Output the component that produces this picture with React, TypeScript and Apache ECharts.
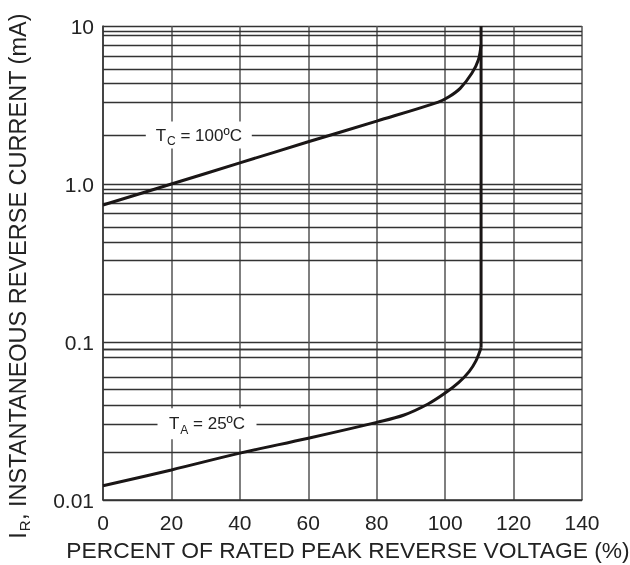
import React, { useEffect, useRef } from "react";
import * as echarts from "echarts";

const xTicks = [0, 20, 40, 60, 80, 100, 120, 140];
const yTickValues = [0.01, 0.1, 1, 10];
const yTickLabels = ["0.01", "0.1", "1.0", "10"];
const gridMantissas = [2.04, 3.3, 4.32, 5.34, 6.45, 7.58, 8.73, 9.3];
const gridDecades = [0.01, 0.1, 1];

const tc100X = [0, 20, 40, 60, 80, 98, 101, 104.4, 107.8, 109.7, 110.5];
const tc100Y = [0.736, 1.0, 1.36, 1.85, 2.5, 3.3, 3.55, 4.03, 5.02, 6.1, 7.6];

const ta25X = [0, 20, 40, 60, 80, 88, 95, 100, 104, 107, 109, 110.5];
const ta25Y = [0.0123, 0.0155, 0.0198, 0.0246, 0.031, 0.0345, 0.0405, 0.0475, 0.0555, 0.065, 0.076, 0.092];

const breakdownX = [110.5, 110.5];
const breakdownY = [0.092, 10];

const labelTcPos = [28, 2.04];
const labelTaPos = [30.4, 0.0304];

const FONT = "Liberation Sans, Arial, Helvetica, sans-serif";

export default function App() {
  const ref = useRef<HTMLDivElement>(null);
  useEffect(() => {
    if (!ref.current) return;
    const chart = echarts.init(ref.current, null, { renderer: "svg" });
    const gridValues: number[] = [];
    gridDecades.forEach((d) => gridMantissas.forEach((m) => gridValues.push(+(d * m).toPrecision(4))));

    const labelRich = {
      a: { fontSize: 17, fontFamily: FONT, color: "#222" },
      s: { fontSize: 12, fontFamily: FONT, color: "#222", padding: [12, 0, 0, 1] },
    };
    const curveStyle = { color: "#1a1616", width: 3 };

    chart.setOption({
      animation: false,
      grid: { left: 103, right: 48, top: 26, bottom: 65, containLabel: false },
      xAxis: {
        type: "value",
        min: xTicks[0],
        max: xTicks[xTicks.length - 1],
        interval: 20,
        axisLine: { show: true, lineStyle: { color: "#333", width: 1.5 } },
        axisTick: { show: false },
        axisLabel: { fontSize: 21, fontFamily: FONT, color: "#222", margin: 12 },
        splitLine: { show: true, lineStyle: { color: "#555", width: 1.5 } },
      },
      yAxis: {
        type: "log",
        logBase: 10,
        min: yTickValues[0],
        max: yTickValues[yTickValues.length - 1],
        axisLine: { show: true, lineStyle: { color: "#333", width: 1.5 } },
        axisTick: { show: false },
        axisLabel: {
          fontSize: 21,
          fontFamily: FONT,
          color: "#222",
          margin: 9,
          formatter: (v: number) => {
            let best = 0;
            yTickValues.forEach((t, i) => {
              if (Math.abs(Math.log10(t) - Math.log10(v)) < Math.abs(Math.log10(yTickValues[best]) - Math.log10(v))) best = i;
            });
            return yTickLabels[best];
          },
        },
        splitLine: { show: true, lineStyle: { color: "#333", width: 1.3 } },
      },
      series: [
        {
          type: "line",
          data: [],
          z: 1,
          silent: true,
          markLine: {
            z: 1,
            silent: true,
            animation: false,
            symbol: ["none", "none"],
            label: { show: false },
            lineStyle: { color: "#333", width: 1.3, type: "solid" },
            emphasis: { disabled: true },
            data: gridValues.map((v) => ({ yAxis: v })),
          },
        },
        {
          name: "TC = 100ºC",
          type: "line",
          z: 3,
          showSymbol: false,
          symbol: "none",
          smooth: 0.35,
          lineStyle: curveStyle,
          data: tc100X.map((x, i) => [x, tc100Y[i]]),
          markPoint: {
            z: 10,
            silent: true,
            animation: false,
            data: [
              {
                coord: labelTcPos,
                symbol: "rect",
                symbolSize: [106, 27],
                itemStyle: { color: "#fff" },
                label: { show: true, position: "inside", formatter: "{a|T}{s|C}{a| = 100ºC}", rich: labelRich },
              },
            ],
          },
        },
        {
          name: "TA = 25ºC",
          type: "line",
          z: 3,
          showSymbol: false,
          symbol: "none",
          smooth: 0.35,
          lineStyle: curveStyle,
          data: ta25X.map((x, i) => [x, ta25Y[i]]),
          markPoint: {
            z: 10,
            silent: true,
            animation: false,
            data: [
              {
                coord: labelTaPos,
                symbol: "rect",
                symbolSize: [99, 31],
                itemStyle: { color: "#fff" },
                label: { show: true, position: "inside", formatter: "{a|T}{s|A}{a| = 25ºC}", rich: labelRich },
              },
            ],
          },
        },
        {
          name: "breakdown",
          type: "line",
          z: 3,
          showSymbol: false,
          symbol: "none",
          lineStyle: curveStyle,
          data: breakdownX.map((x, i) => [x, breakdownY[i]]),
        },
      ],
      graphic: [
        {
          type: "text",
          x: 348,
          y: 549.5,
          style: {
            text: "PERCENT OF RATED PEAK REVERSE VOLTAGE (%)",
            fontSize: 22.8,
            fontFamily: FONT,
            fill: "#222",
            align: "center",
            verticalAlign: "middle",
          },
        },
        {
          type: "text",
          x: 17.5,
          y: 276,
          rotation: Math.PI / 2,
          style: {
            text: "{a|I}{s|R}{a|, INSTANTANEOUS REVERSE CURRENT (mA)}",
            rich: {
              a: { fontSize: 23.5, fontFamily: FONT, fill: "#222" },
              s: { fontSize: 15, fontFamily: FONT, fill: "#222", padding: [14, 0, 0, 1] },
            },
            align: "center",
            verticalAlign: "middle",
          },
        },
      ],
    });
    return () => chart.dispose();
  }, []);
  return <div ref={ref} style={{ position: "fixed", left: 0, top: 0, width: 630, height: 565 }} />;
}
